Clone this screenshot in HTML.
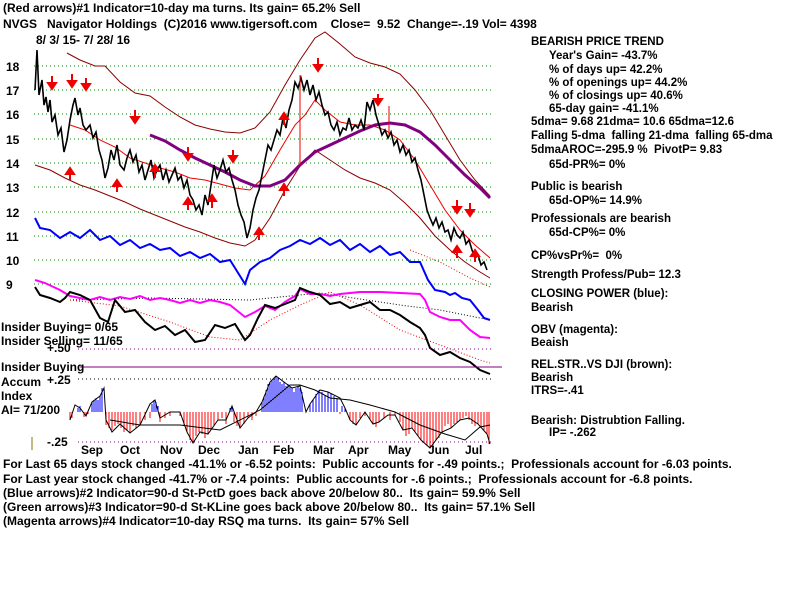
<!DOCTYPE html>
<html><head><meta charset="utf-8"><style>
html,body{margin:0;padding:0;background:#fff;width:800px;height:600px;overflow:hidden}
svg{display:block}
text{font-family:"Liberation Sans",Arial,sans-serif;font-weight:bold;font-size:12px;fill:#000;white-space:pre}
.r{font-size:11.5px}
</style></head><body>
<svg width="800" height="600" viewBox="0 0 800 600">
<text x="3" y="12">(Red arrows)#1 Indicator=10-day ma turns. Its gain= 65.2% Sell</text>
<text x="3" y="28">NVGS   Navigator Holdings  (C)2016 www.tigersoft.com    Close=  9.52  Change=-.19 Vol= 4398</text>
<text x="36" y="44">8/ 3/ 15- 7/ 28/ 16</text>
<g stroke="#080" stroke-dasharray="1,3" stroke-width="1">
<line x1="34" y1="66" x2="492" y2="66"/><line x1="34" y1="90" x2="492" y2="90"/>
<line x1="34" y1="114" x2="492" y2="114"/><line x1="34" y1="139" x2="492" y2="139"/>
<line x1="34" y1="163" x2="492" y2="163"/><line x1="34" y1="187" x2="492" y2="187"/>
<line x1="34" y1="212" x2="492" y2="212"/><line x1="34" y1="236" x2="492" y2="236"/>
<line x1="34" y1="260" x2="492" y2="260"/><line x1="34" y1="284" x2="492" y2="284"/>
</g>
<text x="6" y="71">18</text><text x="6" y="95">17</text><text x="6" y="119">16</text><text x="6" y="144">15</text>
<text x="6" y="168">14</text><text x="6" y="192">13</text><text x="6" y="217">12</text><text x="6" y="241">11</text>
<text x="6" y="265">10</text><text x="6" y="289">9</text>
<path d="M67,53 L80,60 L95,66 L105,66 L120,82 L135,93 L150,96 L165,107 L180,117 L195,125 L210,129 L225,132 L240,133 L255,128 L270,112 L285,85 L300,60 L315,38 L325,32 L340,44 L355,57 L370,63 L385,67 L400,74 L415,90 L430,110 L445,135 L460,160 L475,180 L490,196" fill="none" stroke="#8b0000" stroke-width="1"/>
<path d="M35,165 L50,170 L65,178 L80,185 L95,190 L110,196 L125,202 L140,209 L155,215 L170,221 L185,227 L200,232 L215,238 L230,243 L245,246 L255,240 L270,218 L285,190 L300,166 L315,150 L330,160 L345,170 L360,178 L375,183 L390,190 L405,203 L420,218 L435,236 L450,250 L465,262 L480,272 L490,278" fill="none" stroke="#8b0000" stroke-width="1"/>
<path d="M70,125 L85,130 L100,140 L115,147 L130,158 L145,163 L160,168 L175,172 L190,178 L205,180 L220,184 L235,188 L250,190 L265,176 L280,150 L295,125 L305,115 L315,100 L325,110 L340,122 L355,125 L370,125 L385,130 L400,140 L415,160 L430,185 L445,210 L460,230 L475,245 L490,258" fill="none" stroke="#e00" stroke-width="1"/>
<path d="M150,135 L165,141 L180,150 L195,158 L210,165 L225,172 L240,180 L255,186 L270,186 L285,180 L300,165 L315,152 L330,145 L345,138 L360,131 L375,125 L390,123 L405,125 L420,132 L435,145 L450,160 L465,175 L480,188 L490,198" fill="none" stroke="#800080" stroke-width="3"/>
<path d="M35,90 L37,50 L39,95 L42,80 L44,105 L46,97 L48,112 L50,100 L52,122 L55,115 L58,135 L61,128 L64,152 L67,140 L70,120 L73,105 L75,98 L78,115 L80,108 L83,125 L86,130 L90,125 L93,138 L96,132 L99,150 L102,160 L105,178 L108,168 L111,150 L114,160 L117,145 L120,165 L124,170 L127,158 L130,150 L133,162 L136,155 L139,172 L142,165 L145,180 L148,170 L151,160 L154,178 L157,170 L160,165 L163,180 L166,170 L169,182 L172,175 L175,168 L178,180 L181,176 L184,188 L187,180 L190,195 L193,200 L196,210 L199,205 L202,215 L205,195 L208,205 L211,185 L214,165 L217,178 L220,170 L223,160 L226,172 L229,168 L232,180 L235,190 L238,205 L241,215 L244,222 L247,238 L250,228 L253,210 L256,198 L259,190 L262,175 L265,160 L268,145 L271,150 L274,140 L277,130 L280,135 L283,118 L286,128 L289,110 L292,100 L295,82 L298,88 L301,78 L304,90 L307,80 L310,95 L313,85 L316,100 L319,92 L322,105 L325,115 L328,112 L331,125 L334,130 L337,122 L340,135 L343,128 L346,130 L349,118 L352,130 L355,125 L358,128 L361,120 L364,130 L367,102 L370,110 L373,100 L376,115 L379,125 L382,135 L385,130 L388,138 L391,132 L394,145 L397,140 L400,152 L403,145 L406,155 L409,150 L412,162 L415,158 L418,170 L421,180 L424,195 L427,210 L430,218 L433,225 L436,218 L439,228 L442,222 L445,232 L448,230 L451,240 L454,228 L457,235 L460,238 L463,232 L466,244 L469,240 L472,250 L475,258 L478,255 L481,265 L484,262 L487,270" fill="none" stroke="#000" stroke-width="1.6"/>
<g fill="#e00" stroke="#e00" stroke-width="2">
<line x1="52" y1="76" x2="52" y2="84"/><polygon points="48,83 56,83 52,89" />
<line x1="72" y1="74" x2="72" y2="82"/><polygon points="68,81 76,81 72,87"/>
<line x1="86" y1="78" x2="86" y2="85"/><polygon points="82,84 90,84 86,90"/>
<line x1="135" y1="110" x2="135" y2="118"/><polygon points="131,117 139,117 135,123"/>
<line x1="318" y1="58" x2="318" y2="66"/><polygon points="314,65 322,65 318,71"/>
<line x1="378" y1="94" x2="378" y2="100"/><polygon points="374,99 382,99 378,105"/>
<line x1="233" y1="150" x2="233" y2="157"/><polygon points="229,156 237,156 233,162"/>
<line x1="457" y1="200" x2="457" y2="208"/><polygon points="453,207 461,207 457,213"/>
<line x1="470" y1="203" x2="470" y2="211"/><polygon points="466,210 474,210 470,216"/>
<line x1="188" y1="147" x2="188" y2="155"/><polygon points="184,154 192,154 188,160"/>
<line x1="155" y1="178" x2="155" y2="170"/><polygon points="151,171 159,171 155,165"/>
<line x1="70" y1="180" x2="70" y2="173"/><polygon points="66,174 74,174 70,168"/>
<line x1="117" y1="192" x2="117" y2="185"/><polygon points="113,186 121,186 117,180"/>
<line x1="188" y1="210" x2="188" y2="203"/><polygon points="184,204 192,204 188,198"/>
<line x1="212" y1="208" x2="212" y2="200"/><polygon points="208,201 216,201 212,195"/>
<line x1="259" y1="240" x2="259" y2="233"/><polygon points="255,234 263,234 259,228"/>
<line x1="284" y1="196" x2="284" y2="189"/><polygon points="280,190 288,190 284,184"/>
<line x1="284" y1="125" x2="284" y2="118"/><polygon points="280,119 288,119 284,113"/>
<line x1="457" y1="258" x2="457" y2="251"/><polygon points="453,252 461,252 457,246"/>
<line x1="475" y1="262" x2="475" y2="255"/><polygon points="471,256 479,256 475,250"/>
</g>
<line x1="300" y1="75" x2="300" y2="165" stroke="#e00"/>
<line x1="389" y1="106" x2="389" y2="135" stroke="#e00"/>
<path d="M70,300 L150,298 L250,300 L320,293 L400,305 L440,310 L490,320" fill="none" stroke="#000" stroke-dasharray="1,2"/>
<path d="M70,300 L120,306 L170,322 L210,337 L240,340 L270,320 L300,305 L330,292 L360,305 L400,330 L440,345 L480,360 L490,363" fill="none" stroke="#e00" stroke-dasharray="1,2"/>
<path d="M410,250 L440,262 L470,278 L490,287" fill="none" stroke="#e00" stroke-dasharray="1,2"/>
<path d="M35,218 L40,228 L50,230 L60,238 L70,232 L80,238 L90,230 L100,240 L110,236 L120,245 L130,240 L140,248 L150,244 L160,250 L170,248 L180,256 L190,252 L200,258 L210,254 L220,262 L230,260 L240,276 L245,284 L250,270 L260,262 L270,258 L280,250 L290,246 L300,240 L310,244 L320,238 L330,245 L340,240 L350,250 L360,244 L370,252 L380,246 L390,255 L400,252 L410,262 L420,262 L428,280 L435,290 L445,292 L450,295 L455,293 L462,298 L470,300 L478,310 L484,318 L490,320" fill="none" stroke="#00f" stroke-width="2"/>
<path d="M35,280 L45,283 L60,290 L70,296 L80,298 L90,300 L100,297 L110,300 L120,297 L130,299 L140,296 L150,300 L160,298 L170,300 L180,303 L190,300 L200,303 L210,300 L220,302 L230,305 L245,317 L255,312 L265,306 L275,310 L285,302 L295,296 L300,289 L310,294 L320,294 L330,296 L340,294 L360,292 L380,292 L400,293 L420,294 L425,300 L430,312 L440,317 L450,320 L460,320 L470,330 L480,337 L490,338" fill="none" stroke="#f0f" stroke-width="2"/>
<path d="M35,287 L40,295 L50,298 L60,302 L65,298 L70,292 L80,295 L90,300 L100,318 L108,322 L115,300 L125,312 L135,310 L145,322 L155,330 L165,326 L175,335 L185,330 L195,342 L205,340 L215,325 L225,328 L235,324 L245,340 L250,335 L258,318 L265,305 L275,308 L285,304 L295,300 L300,288 L310,292 L320,295 L330,304 L340,302 L350,308 L360,305 L370,302 L380,310 L390,310 L400,315 L410,322 L420,328 L425,335 L430,348 L440,355 L450,352 L460,358 L470,362 L480,370 L490,374" fill="none" stroke="#000" stroke-width="2"/>
<line x1="78" y1="349" x2="493" y2="349" stroke="#800080" stroke-dasharray="1,3"/>
<line x1="80" y1="367" x2="502" y2="367" stroke="#800080"/>
<line x1="78" y1="379" x2="493" y2="379" stroke="#000" stroke-dasharray="1,3"/>
<line x1="78" y1="442" x2="493" y2="442" stroke="#800080" stroke-dasharray="1,3"/>
<line x1="32" y1="437" x2="32" y2="450" stroke="#8b7500"/>
<text x="1" y="331">Insider Buying= 0/65</text>
<text x="1" y="345">Insider Selling= 11/65</text>
<text x="47" y="352">+.50</text>
<text x="1" y="371">Insider Buying</text>
<text x="1" y="386">Accum</text>
<text x="47" y="384">+.25</text>
<text x="1" y="400">Index</text>
<text x="1" y="414">AI= 71/200</text>
<text x="47" y="446">-.25</text>
<g stroke="#f00" stroke-width="1" fill="none">
<path d="M70,412V420M72,412V418M84,412V417M86,412V416M88,412V414M106,412V425M109,412V428M112,412V430M115,412V426M118,412V424M121,412V428M124,412V432M127,412V430M130,412V433M133,412V426M136,412V428M140,412V425M145,412V420M150,412V418M160,412V422M165,412V418M170,412V416M180,412V416M184,412V425M187,412V432M190,412V440M193,412V443M196,412V436M199,412V432M202,412V434M205,412V438M208,412V434M211,412V430M214,412V426M218,412V420M222,412V418M226,412V424M234,412V422M237,412V426M240,412V428M244,412V424M248,412V418M252,412V420M256,412V416M340,412V414M350,412V420M353,412V424M356,412V425M360,412V418M365,412V416M370,412V420M373,412V424M376,412V427M379,412V422M384,412V418M390,412V420M395,412V415M400,412V422M403,412V430M406,412V436M409,412V434M412,412V428M415,412V432M418,412V436M421,412V440M424,412V443M427,412V446M430,412V448M433,412V445M436,412V440M439,412V438M442,412V432M445,412V426M448,412V424M451,412V428M454,412V424M457,412V422M460,412V420M463,412V418M466,412V416M469,412V420M472,412V424M475,412V426M478,412V424M481,412V428M484,412V430M487,412V434M489,412V444"/>
</g>
<g stroke="#00f" stroke-width="1" fill="none">
<path d="M78,412V408M80,412V406M92,412V402M94,412V400M96,412V398M98,412V400M100,412V396M102,412V388M152,412V404M154,412V400M156,412V402M158,412V406M230,412V408M232,412V406M262,412V402M264,412V396M266,412V390M268,412V384M270,412V382M272,412V380M274,412V378M276,412V376M278,412V378M280,412V382M282,412V384M284,412V382M286,412V386M288,412V384M290,412V386M292,412V388M294,412V392M296,412V388M298,412V386M300,412V388M302,412V392M310,412V404M313,412V400M316,412V394M319,412V390M322,412V392M325,412V395M328,412V392M331,412V394M334,412V396M337,412V398M342,412V406M345,412V408"/>
</g>
<path d="M70,420 L75,405 L80,408 L86,416 L92,402 L100,396 L104,388 L106,420 L112,432 L120,424 L130,433 L140,425 L150,404 L155,400 L160,418 L170,412 L180,412 L187,432 L193,443 L200,432 L208,434 L218,420 L226,420 L232,406 L240,428 L248,418 L256,412 L262,402 L270,382 L276,376 L284,382 L292,388 L300,386 L306,412 L310,404 L320,390 L328,392 L340,398 L345,408 L350,420 L356,425 L365,412 L373,424 L379,422 L388,415 L395,415 L403,430 L412,428 L421,440 L430,448 L442,432 L451,428 L460,420 L469,418 L478,424 L487,434 L490,444" fill="none" stroke="#000" stroke-width="1"/>
<path d="M110,420 L140,425 L180,425 L220,430 L260,410 L290,385 L300,385 L315,390 L330,398 L350,400 L370,405 L395,412 L420,425 L445,434 L465,440 L480,427 L490,425" fill="none" stroke="#000" stroke-width="1"/>
<text x="81" y="454">Sep</text><text x="120" y="454">Oct</text><text x="160" y="454">Nov</text>
<text x="198" y="454">Dec</text><text x="238" y="454">Jan</text><text x="273" y="454">Feb</text>
<text x="313" y="454">Mar</text><text x="348" y="454">Apr</text><text x="388" y="454">May</text>
<text x="428" y="454">Jun</text><text x="465" y="454">Jul</text>
<text x="3" y="468">For Last 65 days stock changed -41.1% or -6.52 points:  Public accounts for -.49 points.;  Professionals account for -6.03 points.</text>
<text x="3" y="483">For Last year stock changed -41.7% or -7.4 points:  Public accounts for -.6 points.;  Professionals account for -6.8 points.</text>
<text x="3" y="497">(Blue arrows)#2 Indicator=90-d St-PctD goes back above 20/below 80..  Its gain= 59.9% Sell</text>
<text x="3" y="511">(Green arrows)#3 Indicator=90-d St-KLine goes back above 20/below 80..  Its gain= 57.1% Sell</text>
<text x="3" y="525">(Magenta arrows)#4 Indicator=10-day RSQ ma turns.  Its gain= 57% Sell</text>
<text class="r" x="531" y="45">BEARISH PRICE TREND</text>
<text class="r" x="549" y="59">Year's Gain= -43.7%</text>
<text class="r" x="549" y="73">% of days up= 42.2%</text>
<text class="r" x="549" y="86">% of openings up= 44.2%</text>
<text class="r" x="549" y="99">% of closings up= 40.6%</text>
<text class="r" x="549" y="112">65-day gain= -41.1%</text>
<text class="r" x="531" y="125">5dma= 9.68 21dma= 10.6 65dma=12.6</text>
<text class="r" x="531" y="139">Falling 5-dma  falling 21-dma  falling 65-dma</text>
<text class="r" x="531" y="153">5dmaAROC=-295.9 %  PivotP= 9.83</text>
<text class="r" x="549" y="168">65d-PR%= 0%</text>
<text class="r" x="531" y="190">Public is bearish</text>
<text class="r" x="549" y="204">65d-OP%= 14.9%</text>
<text class="r" x="531" y="222">Professionals are bearish</text>
<text class="r" x="549" y="236">65d-CP%= 0%</text>
<text class="r" x="531" y="259">CP%vsPr%=  0%</text>
<text class="r" x="531" y="278">Strength Profess/Pub= 12.3</text>
<text class="r" x="531" y="297">CLOSING POWER (blue):</text>
<text class="r" x="531" y="311">Bearish</text>
<text class="r" x="531" y="333">OBV (magenta):</text>
<text class="r" x="531" y="346">Beaish</text>
<text class="r" x="531" y="368">REL.STR..VS DJI (brown):</text>
<text class="r" x="531" y="381">Bearish</text>
<text class="r" x="531" y="394">ITRS=-.41</text>
<text class="r" x="531" y="424">Bearish: Distrubtion Falling.</text>
<text class="r" x="549" y="436">IP= -.262</text>
</svg>
</body></html>
